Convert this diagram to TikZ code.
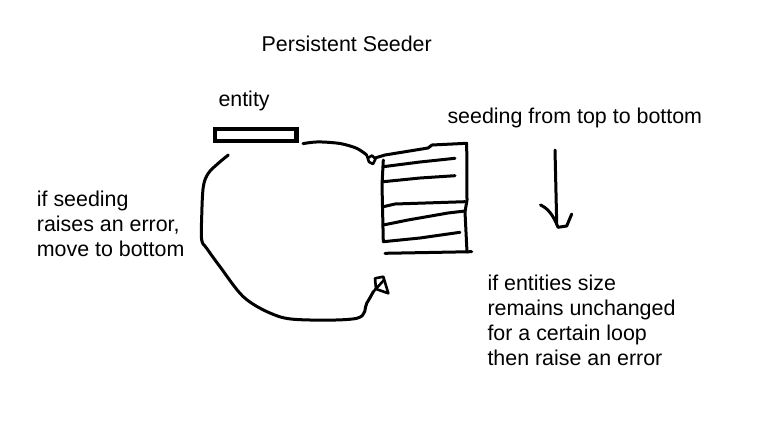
\documentclass[tikz,border=0pt]{standalone}
\usepackage{fontspec}
\setmainfont{Liberation Sans}
\usetikzlibrary{calc}
\begin{document}
\begin{tikzpicture}[x=1pt,y=-1pt,
  lbl/.style={anchor=base west, inner sep=0pt, font=\fontsize{21.4}{25}\selectfont, align=left},
  pen/.style={line width=3pt, line cap=round, line join=round},
  tippen/.style={line width=2.6pt, line cap=round, line join=round},
  thickbox/.style={draw, line width=4.6pt, minimum width=81.4pt, minimum height=11.9pt, inner sep=0pt}]
\useasboundingbox (0,0) rectangle (770,447);
\fill[white] (0,0) rectangle (770,447);

% texts (multi-line nodes: base = baseline of last line)
\node[lbl] (title) at (261.5,51.7) {Persistent Seeder};
\node[lbl] (entlabel) at (218.3,106.7) {entity};
\node[lbl] (order) at (447.3,123.3) {seeding from top to bottom};
\node[lbl] (errnote) at (36.7,256.7) {if seeding\\raises an error,\\move to bottom};
\node[lbl] (sizenote) at (487.3,365) {if entities size\\remains unchanged\\for a certain loop\\then raise an error};

% entity
\node[thickbox] (entity) at (255.5,134.85) {};

% stack of entities
\coordinate (stackin) at (366.7,155);
\coordinate (stackout) at (373.3,291.7);
\draw[pen] (375,158) -- (385,155) -- (428,148) -- (432,145) -- (466.7,143.3) -- (467,200) -- (465,212) -- (467,252);
\draw[pen] (383.3,160) -- (382,185) -- (383.3,241.7);
\draw[pen] (383.3,166.7) -- (420,162) -- (455,158.3);
\draw[pen] (383.3,181.7) -- (420,178) -- (455,175.7);
\draw[pen] (383.3,206.7) -- (395,204) -- (465,201.7);
\draw[pen] (383.3,225) -- (408,220) -- (448,213) -- (465,211);
\draw[pen] (383.3,241.7) -- (420,238) -- (460,232.3);
\draw[pen] (385,253.3) -- (471.7,251.7);

% connector entity -> top of stack
\draw[pen] plot[smooth, tension=0.5] coordinates {($(entity.south east)+(4.5,0.5)$) (318,141.9) (340,143.5) (356.7,148.3) (stackin)};
\draw[tippen] (stackin) -- (369,162) -- (373,164) -- (375.5,159) -- (372,155.5) -- (368,158);

% connector entity -> bottom of stack (loop on the left)
\draw[pen] plot[smooth, tension=0.55] coordinates {($(entity.south west)+(15.8,11.9)$) (218.3,163.3) (208.3,173.3) (203.3,186.7) (201.7,216.7) (201.7,240) (206.7,248.3) (220,266.7) (243.3,296.7) (270,313) (296.7,319.5) (356.7,318.3) (366.7,303.3) (stackout)};
\draw[tippen] (375,278.3) -- (383.3,276.7) -- (388.3,293.3) -- (376,289) -- (375,278.3);
\draw[tippen] (stackout) -- (384,280);

% order arrow
\draw[pen] (555,150) -- (556.7,223.3);
\draw[pen] (540.5,205) .. controls (547,208) and (553,214) .. (558,227.3) -- (566.7,226) -- (571.7,214);
\end{tikzpicture}
\end{document}
